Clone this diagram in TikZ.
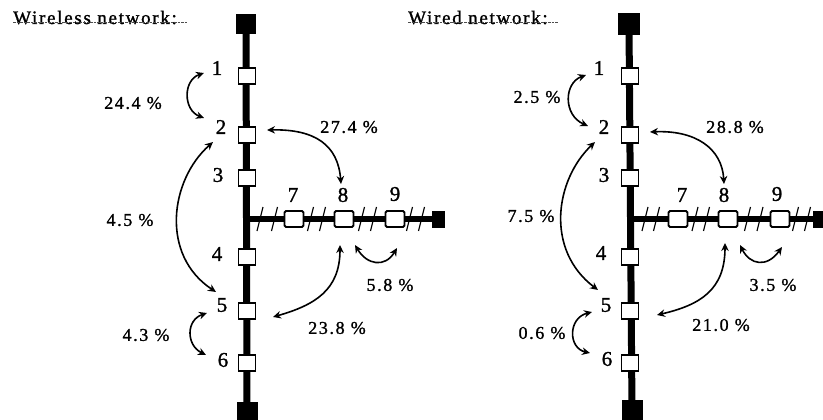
\documentclass[tikz,border=0pt]{standalone}
\usepackage{fontspec}
\setmainfont{Liberation Serif}
\newfontfamily\spacedserif[LetterSpace=9,FakeBold=1.2]{Liberation Serif}
\usetikzlibrary{arrows.meta}

\tikzset{
  bus/.style={line width=7pt},
  branch/.style={line width=6pt},
  station/.style={draw, fill=white, line width=1.8pt, minimum width=17pt,
    minimum height=16pt, inner sep=0pt},
  hstation/.style={station, minimum width=19pt, rounded corners=1.5pt},
  endcap/.style={fill=black, inner sep=0pt},
  num/.style={font=\spacedserif\fontsize{21}{21}\selectfont, inner sep=0pt},
  pct/.style={font=\spacedserif\fontsize{18}{18}\selectfont, inner sep=0pt},
  heading/.style={font=\spacedserif\fontsize{19}{19}\selectfont, inner sep=0pt,
    anchor=base west},
  underl/.style={line width=0.8pt, black!70, dash pattern=on 2.5pt off 1pt},
  flow/.style={line width=1.6pt,
    {Stealth[length=8pt,width=7.5pt]}-{Stealth[length=8pt,width=7.5pt]}},
  hatch/.style={line width=1.2pt},
}

\begin{document}
\begin{tikzpicture}[x=1pt, y=-1pt]
\useasboundingbox (0,0) rectangle (823,420);

% ---------- headings ----------
\node[heading] (tl) at (13,24) {Wireless network:};
\draw[underl] (tl.south west) ++(0,-2) -- ++(174,0);
\node[heading] (tr) at (408,24) {Wired network:};
\draw[underl] (tr.south west) ++(0,-2) -- ++(150,0);

% ---------- bus lines and end caps ----------
% left network
\node[endcap, minimum width=20pt, minimum height=20pt] (Ltop) at (246,24) {};
\node[endcap, minimum width=21pt, minimum height=22pt] (Lbot) at (247,413) {};
\node[endcap, minimum width=13pt, minimum height=17pt] (Lend) at (438,219) {};
\coordinate (Ljoin) at (247,219);
\draw[bus] (Ltop.center) -- (Lbot.center);
\draw[branch] (Ljoin) -- (Lend.center);
% right network
\node[endcap, minimum width=22pt, minimum height=22pt] (Rtop) at (629,24) {};
\node[endcap, minimum width=21pt, minimum height=22pt] (Rbot) at (632,411) {};
\node[endcap, minimum width=13pt, minimum height=17pt] (Rend) at (819,219) {};
\coordinate (Rjoin) at (630,219);
\draw[bus] (Rtop.center) -- (Rbot.center);
\draw[branch] (Rjoin) -- (Rend.center);

% hatch marks across the branch lines
\foreach \hx in {260,274.5,310.5,322.5,361.5,373.5,409.5,421.5,
                 645,656.5,695,706.5,747.5,760,795.5,807.5}
  \draw[hatch] (\hx-3,231) -- (\hx+3,207);

% ---------- stations ----------
\foreach \p/\ox in {L/247, R/630} {
  \node[station] (\p s1) at (\ox,76) {};
  \node[station] (\p s2) at (\ox,135) {};
  \node[station] (\p s3) at (\ox,178) {};
  \node[station] (\p s4) at (\ox,257) {};
  \node[station] (\p s5) at (\ox,311) {};
  \node[station] (\p s6) at (\ox,363) {};
}
\node[hstation] (Ls7) at (294,219) {};
\node[hstation] (Ls8) at (344,219) {};
\node[hstation] (Ls9) at (395,219) {};
\node[hstation] (Rs7) at (678,219) {};
\node[hstation] (Rs8) at (728,219) {};
\node[hstation] (Rs9) at (780,219) {};

% station numbers
\node[num] (Ln1) at (217,68) {1};
\node[num] (Ln2) at (221,127) {2};
\node[num] (Ln3) at (218,175) {3};
\node[num] (Ln4) at (217,254) {4};
\node[num] (Ln5) at (222,305) {5};
\node[num] (Ln6) at (223,360) {6};
\node[num] (Ln7) at (293,195) {7};
\node[num] (Ln8) at (343,195) {8};
\node[num] (Ln9) at (395,194) {9};
\node[num] (Rn1) at (599,68) {1};
\node[num] (Rn2) at (604,127) {2};
\node[num] (Rn3) at (604,175) {3};
\node[num] (Rn4) at (601,253) {4};
\node[num] (Rn5) at (606,305) {5};
\node[num] (Rn6) at (607,359) {6};
\node[num] (Rn7) at (682,195) {7};
\node[num] (Rn8) at (724,195) {8};
\node[num] (Rn9) at (777,194) {9};

% ---------- traffic shares, wireless ----------
\coordinate (La1) at (204,73);   \coordinate (La2) at (204,118);
\coordinate (Lb1) at (267,130);  \coordinate (Lb2) at (341,184);
\coordinate (Lc1) at (213,142);  \coordinate (Lc2) at (216,292);
\coordinate (Ld1) at (273,317);  \coordinate (Ld2) at (340,245);
\coordinate (Le1) at (355,245);  \coordinate (Le2) at (397,248);
\coordinate (Lf1) at (207,313);  \coordinate (Lf2) at (206,355);
\draw[flow] (La1) .. controls (183,80) and (183,110) .. (La2);
\draw[flow] (Lb1) .. controls (315,129) and (338,145) .. (Lb2);
\draw[flow] (Lc1) .. controls (170,180) and (160,255) .. (Lc2);
\draw[flow] (Ld1) .. controls (315,305) and (340,290) .. (Ld2);
\draw[flow] (Le1) .. controls (367,265) and (385,268) .. (Le2);
\draw[flow] (Lf1) .. controls (186,320) and (186,345) .. (Lf2);
\node[pct] (Lp1) at (133,103) {24.4 \%};
\node[pct] (Lp2) at (349,127) {27.4 \%};
\node[pct] (Lp3) at (130,220) {4.5 \%};
\node[pct] (Lp4) at (337,328) {23.8 \%};
\node[pct] (Lp5) at (390,285) {5.8 \%};
\node[pct] (Lp6) at (146,335) {4.3 \%};

% ---------- traffic shares, wired ----------
\coordinate (Ra1) at (586,75);   \coordinate (Ra2) at (588,126);
\coordinate (Rb1) at (650,132);  \coordinate (Rb2) at (724,184);
\coordinate (Rc1) at (595,142);  \coordinate (Rc2) at (598,290);
\coordinate (Rd1) at (657,315);  \coordinate (Rd2) at (725,243);
\coordinate (Re1) at (740,245);  \coordinate (Re2) at (782,247);
\coordinate (Rf1) at (592,312);  \coordinate (Rf2) at (590,353);
\draw[flow] (Ra1) .. controls (564,83) and (563,115) .. (Ra2);
\draw[flow] (Rb1) .. controls (695,130) and (722,148) .. (Rb2);
\draw[flow] (Rc1) .. controls (555,180) and (545,250) .. (Rc2);
\draw[flow] (Rd1) .. controls (700,305) and (725,290) .. (Rd2);
\draw[flow] (Re1) .. controls (750,265) and (767,268) .. (Re2);
\draw[flow] (Rf1) .. controls (568,318) and (568,348) .. (Rf2);
\node[pct] (Rp1) at (537,97) {2.5 \%};
\node[pct] (Rp2) at (735,127) {28.8 \%};
\node[pct] (Rp3) at (531,216) {7.5 \%};
\node[pct] (Rp4) at (721,325) {21.0 \%};
\node[pct] (Rp5) at (773,285) {3.5 \%};
\node[pct] (Rp6) at (542,333) {0.6 \%};
\end{tikzpicture}
\end{document}
